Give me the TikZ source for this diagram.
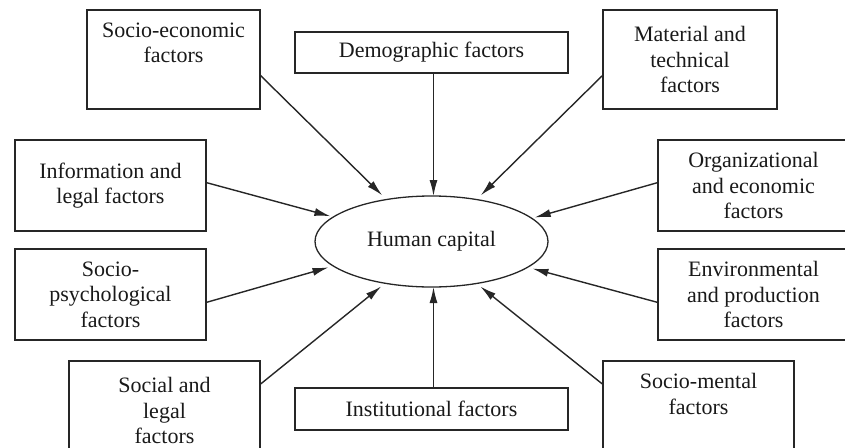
\documentclass[tikz,border=0pt]{standalone}
\usepackage{fontspec}
\setmainfont{Liberation Serif}
\usetikzlibrary{arrows.meta,shapes.geometric}
\begin{document}
\begin{tikzpicture}[x=1pt,y=-1pt,
  line width=1.3pt,
  box/.style={draw=black!85, line width=1.3pt, inner sep=0pt, outer sep=0pt, align=center,
    text=black!90, font=\fontsize{22}{25.5}\selectfont},
  hcap/.style={draw=black!85, line width=1.3pt, ellipse, inner sep=0pt, outer sep=0pt,
    minimum width=233pt, minimum height=91pt, text=black!90, font=\fontsize{22}{25.5}\selectfont},
  arr/.style={draw=black!85, line width=1.4pt, -{Latex[length=16pt,width=8pt]}}
]
\useasboundingbox (0,0) rectangle (845,447);
\clip (0,0) rectangle (845,447);

\node[hcap] (hc) at (431.5,241.5) {Human capital};

\node[box, minimum width=173pt, minimum height=99pt] (se) at (173.5,59.5) {Socio-economic\\factors\\\strut};
\node[box, minimum width=273pt, minimum height=41pt] (dem) at (431.5,52.5) {Demographic factors};
\node[box, minimum width=174pt, minimum height=99pt] (mt) at (690,59.5) {Material and\\technical\\factors};
\node[box, minimum width=191pt, minimum height=91pt] (il) at (110.5,185.5) {Information and\\legal factors};
\node[box, minimum width=191pt, minimum height=91pt] (oe) at (753.5,185.5) {Organizational\\and economic\\factors};
\node[box, minimum width=191pt, minimum height=91pt] (sp) at (110.5,294.5) {Socio-\\psychological\\factors};
\node[box, minimum width=191pt, minimum height=91pt] (ep) at (753.5,294.5) {Environmental\\and production\\factors};
\node[box, minimum width=191pt, minimum height=99pt] (sl) at (164.5,410.5) {Social and\\legal\\factors};
\node[box, minimum width=191pt, minimum height=99pt] (sm) at (698.5,410.5) {Socio-mental\\factors\\\strut};
\node[box, minimum width=273pt, minimum height=42pt] (inst) at (431.5,409) {Institutional factors};

\draw[arr, shorten >=6pt] ([yshift=-15.5pt]se.east) -- (hc.137);
\draw[arr] ([xshift=2pt]dem.south) -- ([xshift=2pt]hc.north);
\draw[arr, shorten >=6pt] ([yshift=-15.5pt]mt.west) -- (hc.43);
\draw[arr, shorten >=3pt] ([yshift=3pt]il.east) -- (hc.166.3);
\draw[arr, shorten >=3pt] ([yshift=3pt]oe.west) -- (hc.13.7);
\draw[arr, shorten >=5pt] ([yshift=-8pt]sp.east) -- (hc.194.7);
\draw[arr, shorten >=5pt] ([yshift=-8pt]ep.west) -- (hc.345.3);
\draw[arr, shorten >=5pt] ([yshift=26pt]sl.east) -- (hc.222.5);
\draw[arr, shorten >=5pt] ([yshift=26pt]sm.west) -- (hc.317.5);
\draw[arr] ([xshift=2pt]inst.north) -- ([xshift=2pt]hc.south);
\end{tikzpicture}
\end{document}
